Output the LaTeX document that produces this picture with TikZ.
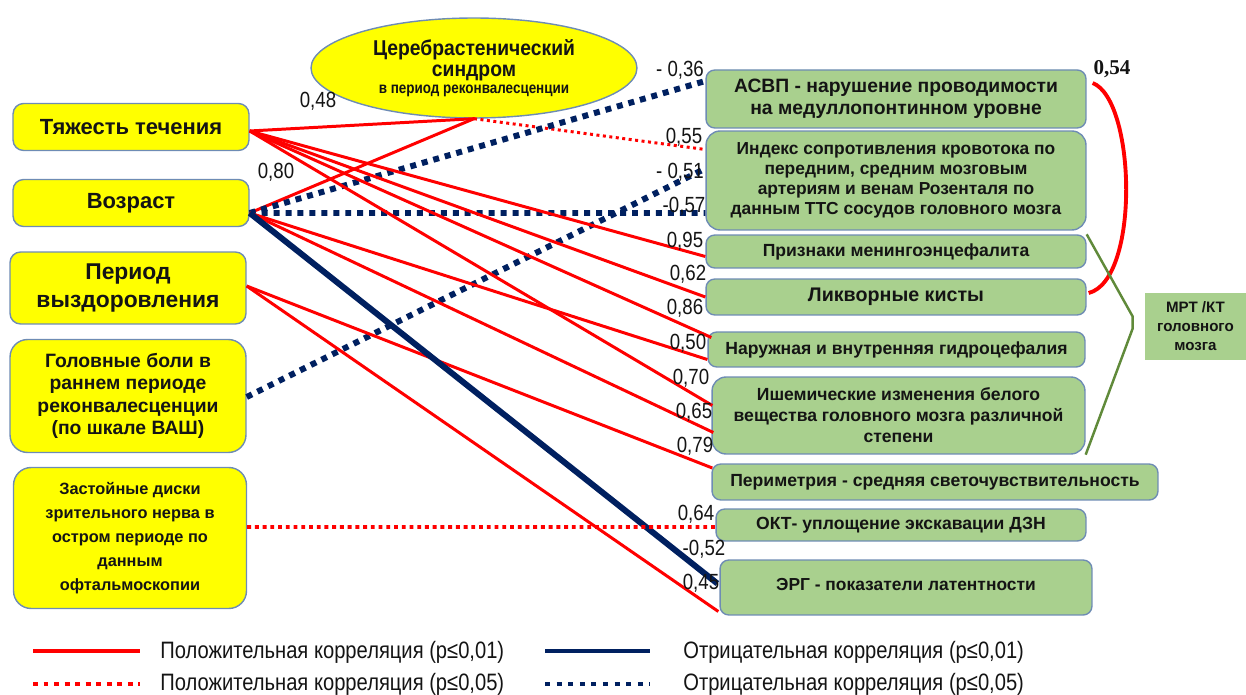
\documentclass[tikz,border=0pt]{standalone}
\usepackage{fontspec}
\setmainfont{Liberation Sans}
\newfontfamily\narrowfont[FakeStretch=0.85]{Liberation Sans}
\newfontfamily\semifont[FakeStretch=0.9]{Liberation Sans}
\newfontfamily\numserif{Liberation Serif}
\usetikzlibrary{shapes.geometric,calc,positioning}

\definecolor{boxyellow}{RGB}{255,255,0}
\definecolor{boxgreen}{RGB}{169,208,142}
\definecolor{boxedge}{RGB}{110,140,180}
\definecolor{corred}{RGB}{255,0,0}
\definecolor{cornavy}{RGB}{0,32,96}
\definecolor{brackgreen}{RGB}{96,138,58}
\definecolor{txt}{RGB}{20,20,20}

\tikzset{
  factor/.style={draw=boxedge, fill=boxyellow, rounded corners=6pt, align=center,
    text=txt, inner sep=2pt, line width=0.8pt, minimum width=4.72cm},
  result/.style={draw=boxedge, fill=boxgreen, rounded corners=5pt, align=center,
    text=txt, inner sep=2pt, line width=0.8pt},
  pos01/.style={corred, line width=1.7pt},
  pos05/.style={corred, line width=2.2pt, dash pattern=on 2.2pt off 2.2pt},
  neg01/.style={cornavy, line width=3.4pt},
  neg05/.style={cornavy, line width=3.4pt, dash pattern=on 3.4pt off 3.4pt},
  coef/.style={font=\narrowfont\fontsize{12.5}{14}\selectfont, text=txt, inner sep=0pt},
  legtext/.style={anchor=west, font=\narrowfont\fontsize{13.5}{15}\selectfont, text=txt, inner sep=0pt},
}

\begin{document}
\begin{tikzpicture}[x=0.02cm, y=-0.02cm]
    \useasboundingbox (0,0) rectangle (1246,695);

    % left column: factors
    \node[factor, minimum height=0.94cm, font=\bfseries\fontsize{12.5}{14}\selectfont] (tyazh) at (131,127) {Тяжесть течения};
    \node[factor, minimum height=0.94cm, font=\bfseries\fontsize{12.5}{14}\selectfont] (vozr) at (131,203) {Возраст};
    \node[factor, minimum height=1.44cm, font=\bfseries\fontsize{13}{15.5}\selectfont] (period) at (128,288) {Период\\выздоровления};
    \node[factor, minimum height=2.26cm, rounded corners=10pt, font=\bfseries\fontsize{11}{12.8}\selectfont] (golov) at (128,396) {Головные боли в\\раннем периоде\\реконвалесценции\\(по шкале ВАШ)};
    \node[factor, minimum width=4.66cm, minimum height=2.82cm, rounded corners=10pt, font=\bfseries\fontsize{9.3}{13.6}\selectfont] (zast) at (130,538) {Застойные диски\\зрительного нерва в\\остром периоде по\\данным\\офтальмоскопии};

    \node[ellipse, draw=boxedge, fill=boxyellow, line width=0.8pt, minimum width=6.52cm, minimum height=2cm,
          inner sep=0pt, align=center, text=txt, font=\semifont\bfseries\fontsize{12.2}{12.5}\selectfont] (cereb) at (474,68)
          {Церебрастенический\\синдром\\[-3pt]{\narrowfont\fontsize{9}{9}\selectfont в период реконвалесценции}};

    % right column: findings
    \node[result, minimum width=7.6cm, minimum height=1.16cm, font=\bfseries\fontsize{11}{12.5}\selectfont] (asvp) at (896,99) {АСВП - нарушение проводимости\\на медуллопонтинном уровне};
    \node[result, minimum width=7.6cm, minimum height=1.98cm, rounded corners=8pt, font=\bfseries\fontsize{9.9}{11.3}\selectfont] (indeks) at (896,180.5) {Индекс сопротивления кровотока по\\передним, средним мозговым\\артериям и венам Розенталя по\\данным ТТС сосудов головного мозга};
    \node[result, minimum width=7.6cm, minimum height=0.66cm, font=\bfseries\fontsize{10}{12}\selectfont] (priz) at (896,251.5) {Признаки менингоэнцефалита};
    \node[result, minimum width=7.6cm, minimum height=0.72cm, font=\bfseries\fontsize{11.2}{13}\selectfont] (likv) at (896,297) {Ликворные кисты};
    \node[result, minimum width=7.54cm, minimum height=0.7cm, font=\bfseries\fontsize{10}{11}\selectfont] (naruzh) at (896.5,349.5) {Наружная и внутренняя гидроцефалия};
    \node[result, minimum width=7.46cm, minimum height=1.54cm, rounded corners=8pt, font=\bfseries\fontsize{10}{11.9}\selectfont] (ishem) at (898.5,415.5) {Ишемические изменения белого\\вещества головного мозга различной\\степени};
    \node[result, minimum width=8.92cm, minimum height=0.72cm, font=\bfseries\fontsize{10}{12}\selectfont] (perim) at (935,482) {Периметрия - средняя светочувствительность};
    \node[result, minimum width=7.4cm, minimum height=0.64cm, font=\bfseries\fontsize{10}{11}\selectfont] (okt) at (901,525) {ОКТ- уплощение экскавации ДЗН};
    \node[result, minimum width=7.44cm, minimum height=1.1cm, font=\bfseries\fontsize{9.9}{11}\selectfont] (erg) at (906,587.5) {\raisebox{4pt}{ЭРГ - показатели латентности}};
    \node[fill=boxgreen, minimum width=2.02cm, minimum height=1.34cm, inner sep=0pt, align=center, text=txt,
          font=\bfseries\fontsize{8.6}{10.8}\selectfont] (mrt) at (1195.5,326.5) {МРТ /КТ\\головного\\мозга};

    % correlations
    \draw[pos01] ([yshift=-0.08cm]tyazh.east) -- (cereb.south);
    \draw[pos01] ([yshift=-0.2cm]vozr.east) -- (cereb.south);
    \draw[pos05, line width=1.7pt, dash pattern=on 1.7pt off 2pt] (cereb.south) -- ($(indeks.west)+(0,-31)$);
    \draw[neg05] ([yshift=-0.2cm]vozr.east) -- ($(asvp.west)+(0,-18)$);
    \draw[neg05] ([yshift=-0.02cm]golov.east) -- ($(indeks.west)+(0,-12)$);
    \draw[neg05] ([yshift=-0.2cm]vozr.east) -- (indeks.west |- 0,213);
    \draw[pos01] ([yshift=-0.08cm]tyazh.east) -- ($(priz.west)+(0,5)$);
    \draw[pos01] ([yshift=-0.08cm]tyazh.east) -- (likv.west);
    \draw[pos01] ([yshift=-0.08cm]tyazh.east) -- ($(naruzh.west)+(4,-12)$);
    \draw[pos01] ([yshift=-0.2cm]vozr.east) -- ($(naruzh.west)+(0,10)$);
    \draw[pos01] ([yshift=-0.08cm]tyazh.east) -- ($(ishem.west)+(1,-10)$);
    \draw[pos01] ([yshift=-0.2cm]vozr.east) -- ($(ishem.west)+(2,17)$);
    \draw[pos01] ([yshift=0.04cm]period.east) -- ($(perim.west)+(1,-14)$);
    \draw[pos01] ([yshift=0.04cm]period.east) -- ($(erg.west)+(-1,24)$);
    \draw[neg01] ([yshift=-0.2cm]vozr.east) -- ($(erg.west)+(-2,-4)$);
    \draw[pos05] ([yshift=0.22cm]zast.east) -- (okt.west |- 0,527);
    \draw[corred, line width=2.2pt] ($(asvp.east)+(6,-16)$) .. controls (1136,100) and (1140,280) .. ($(likv.east)+(2,-4)$);
    \draw[brackgreen, line width=1.4pt] (priz.north east) -- ($(mrt.west)+(-12,-10)$) -- ($(mrt.west)+(-12,2)$) -- (ishem.south east);

    % coefficients
    \node[coef] (k048) at (318,101) {0,48};
    \node[coef] (k080) at (276,172) {0,80};
    \node[coef] (k036) at (680,70) {- 0,36};
    \node[coef] (k055) at (684,137) {0,55};
    \node[coef] (k051) at (680,172) {- 0,51};
    \node[coef] (k057) at (684,206) {-0,57};
    \node[coef] (k095) at (685,241) {0,95};
    \node[coef] (k062) at (688,274) {0,62};
    \node[coef] (k086) at (685,308) {0,86};
    \node[coef] (k050) at (688,343) {0,50};
    \node[coef] (k070) at (691,378) {0,70};
    \node[coef] (k065) at (694,412) {0,65};
    \node[coef] (k079) at (695,446) {0,79};
    \node[coef] (k064) at (696,514) {0,64};
    \node[coef] (k052) at (704,549) {-0,52};
    \node[coef] (k045) at (701,583) {0,45};
    \node[coef, font=\numserif\bfseries\fontsize{12}{14}\selectfont] (k054) at (1112,69) {0,54};

    % legend
    \draw[corred, line width=2.8pt] (33,651) -- (140,651);
    \draw[corred, line width=2.8pt, dash pattern=on 2.8pt off 3.2pt] (33,684) -- (140,684);
    \draw[cornavy, line width=2.8pt] (545,651) -- (650,651);
    \draw[cornavy, line width=2.8pt, dash pattern=on 2.8pt off 3.8pt] (545,684) -- (650,684);
    \node[legtext] (legpos1) at (160,652) {Положительная корреляция (p≤0,01)};
    \node[legtext] (legpos5) at (160,684) {Положительная корреляция (p≤0,05)};
    \node[legtext] (legneg1) at (683,652) {Отрицательная корреляция (p≤0,01)};
    \node[legtext] (legneg5) at (683,684) {Отрицательная корреляция (p≤0,05)};
\end{tikzpicture}
\end{document}
